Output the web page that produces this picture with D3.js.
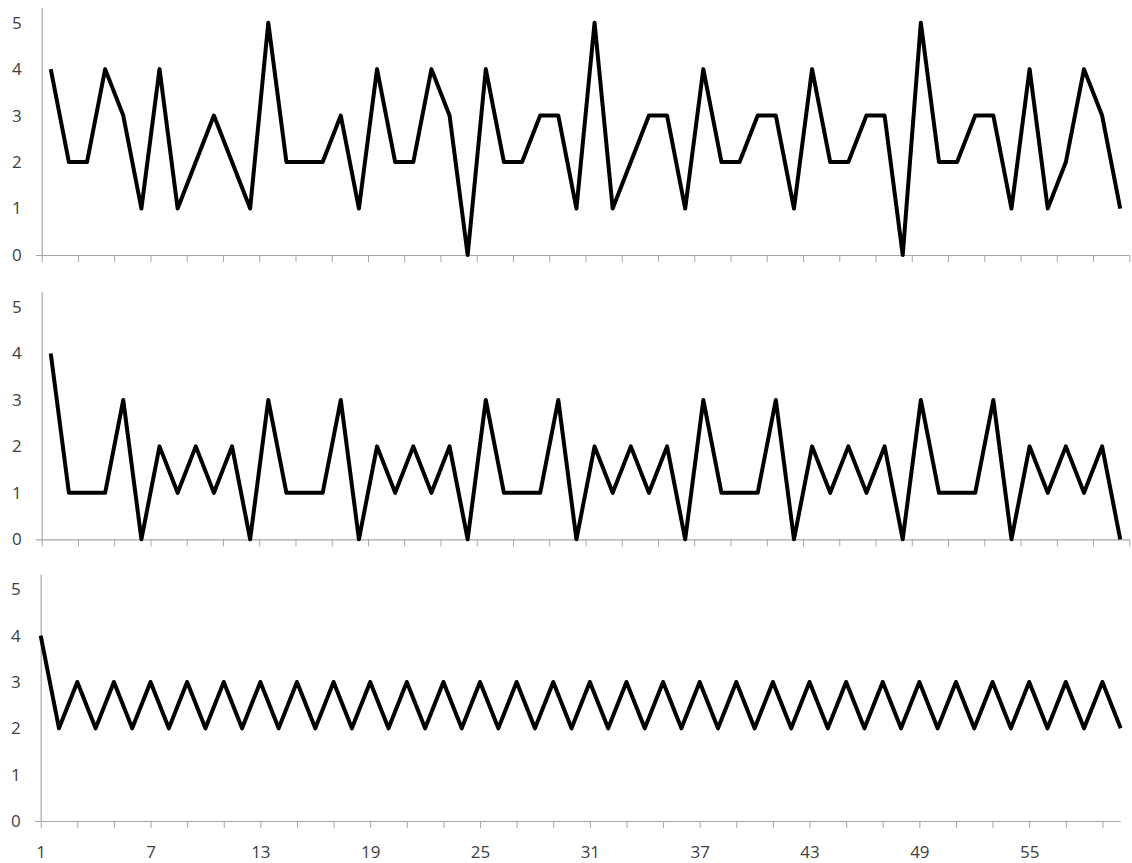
<!DOCTYPE html>
<html>
<head>
<meta charset="utf-8">
<script src="https://cdn.jsdelivr.net/npm/d3@7"></script>
<style>
  html, body { margin: 0; padding: 0; background: #fff; }
  text { font-family: "Open Sans", sans-serif; }
</style>
</head>
<body>
<div id="chart"></div>
<script>
const width = 1132;
const height = 863;

// values, one per category 1..60
const categories = d3.range(1, 61);

const seriesTop = [
    4, 2, 2, 4, 3, 1, 4, 1, 2, 3,
    2, 1, 5, 2, 2, 2, 3, 1, 4, 2,
    2, 4, 3, 0, 4, 2, 2, 3, 3, 1,
    5, 1, 2, 3, 3, 1, 4, 2, 2, 3,
    3, 1, 4, 2, 2, 3, 3, 0, 5, 2,
    2, 3, 3, 1, 4, 1, 2, 4, 3, 1
];

const seriesMiddle = [
    4, 1, 1, 1, 3, 0, 2, 1, 2, 1,
    2, 0, 3, 1, 1, 1, 3, 0, 2, 1,
    2, 1, 2, 0, 3, 1, 1, 1, 3, 0,
    2, 1, 2, 1, 2, 0, 3, 1, 1, 1,
    3, 0, 2, 1, 2, 1, 2, 0, 3, 1,
    1, 1, 3, 0, 2, 1, 2, 1, 2, 0
];

const seriesBottom = [
    4, 2, 3, 2, 3, 2, 3, 2, 3, 2,
    3, 2, 3, 2, 3, 2, 3, 2, 3, 2,
    3, 2, 3, 2, 3, 2, 3, 2, 3, 2,
    3, 2, 3, 2, 3, 2, 3, 2, 3, 2,
    3, 2, 3, 2, 3, 2, 3, 2, 3, 2,
    3, 2, 3, 2, 3, 2, 3, 2, 3, 2
];

const yTicks = [0, 1, 2, 3, 4, 5];
const xLabels = [1, 7, 13, 19, 25, 31, 37, 43, 49, 55];

const yMax = 5.33;
const axisColor = "#a6a6a6";
const textColor = "#404040";

const svg = d3.select("#chart")
    .append("svg")
    .attr("width", width)
    .attr("height", height)
    .attr("viewBox", [0, 0, width, height]);

// panel layout: top/bottom of the plot area and x range
const panels = [
    { values: seriesTop, top: 7.3, bottom: 255, left: 41.7, right: 1129.3, between: true, labels: false },
    { values: seriesMiddle, top: 291.7, bottom: 539.3, left: 41.7, right: 1129.3, between: true, labels: false },
    { values: seriesBottom, top: 574, bottom: 821, left: 40.7, right: 1120.7, between: false, labels: true }
];

panels.forEach(p => {
    const g = svg.append("g");

    // "between tick marks" puts the points at band centres, otherwise on the ticks
    const x = p.between
        ? d3.scaleLinear([0.5, categories.length + 0.5], [p.left, p.right])
        : d3.scaleLinear([1, categories.length], [p.left, p.right]);
    const y = d3.scaleLinear([0, yMax], [p.bottom, p.top]);

    const tickVals = p.between
        ? d3.range(0, categories.length + 1, 2).map(k => k + 0.5)
        : categories.filter(c => c % 2 === 1);

    // x axis
    const xAxis = g.append("g")
        .attr("transform", `translate(0,${p.bottom})`)
        .call(d3.axisBottom(x)
            .tickValues(tickVals)
            .tickSize(7)
            .tickSizeOuter(0)
            .tickFormat(d => (p.labels && xLabels.includes(d)) ? d : ""));
    xAxis.select(".domain").remove();
    xAxis.selectAll("line").attr("stroke", axisColor);
    xAxis.selectAll("text")
        .attr("y", 31)
        .attr("dy", "0.35em")
        .attr("fill", textColor)
        .style("font-size", "17px");

    g.append("line")
        .attr("x1", p.left - 6)
        .attr("x2", p.right)
        .attr("y1", p.bottom + 0.5)
        .attr("y2", p.bottom + 0.5)
        .attr("stroke", axisColor)
        .attr("stroke-width", 1.2);

    // y axis
    const yAxis = g.append("g")
        .attr("transform", `translate(${p.left},0)`)
        .call(d3.axisLeft(y)
            .tickValues(yTicks)
            .tickFormat(d3.format("d"))
            .tickSize(0)
            .tickPadding(20)
            .tickSizeOuter(0));
    yAxis.select(".domain").attr("stroke", axisColor).attr("stroke-width", 1.2);
    yAxis.selectAll("text")
        .attr("fill", textColor)
        .style("font-size", "17px");

    const line = d3.line()
        .x((d, i) => x(categories[i]))
        .y(d => y(d));

    g.append("path")
        .datum(p.values)
        .attr("fill", "none")
        .attr("stroke", "#000")
        .attr("stroke-width", 4)
        .attr("stroke-linejoin", "round")
        .attr("d", line);
});
</script>
</body>
</html>
